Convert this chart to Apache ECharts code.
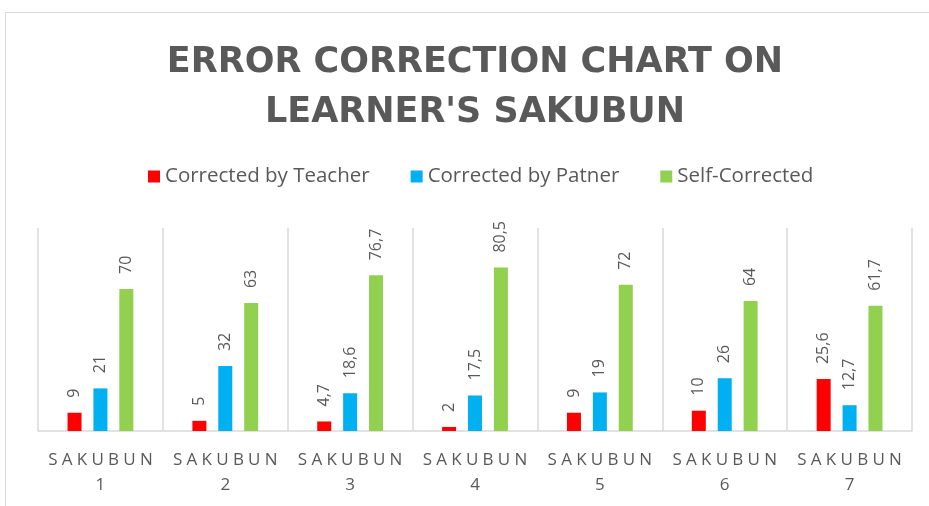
<!DOCTYPE html>
<html>
<head>
<meta charset="utf-8">
<script src="https://cdn.jsdelivr.net/npm/echarts@6/dist/echarts.min.js"></script>
<style>
  html, body { margin: 0; padding: 0; background: #fff; }
  #chart { width: 929px; height: 506px; }
</style>
</head>
<body>
<div id="chart"></div>
<script>
// data
var categories = ['SAKUBUN 1', 'SAKUBUN 2', 'SAKUBUN 3', 'SAKUBUN 4', 'SAKUBUN 5', 'SAKUBUN 6', 'SAKUBUN 7'];
var seriesNames = ['Corrected by Teacher', 'Corrected by Patner', 'Self-Corrected'];
var teacher = [9, 5, 4.7, 2, 9, 10, 25.6];
var patner = [21, 32, 18.6, 17.5, 19, 26, 12.7];
var selfCorrected = [70, 63, 76.7, 80.5, 72, 64, 61.7];
var colors = ['#ff0000', '#00b0f0', '#92d050'];

var grey = '#595959';
var font = '"Open Sans", "Noto Sans", sans-serif';

// comma decimal like the original
function fmt(p) {
  return String(p.value).replace('.', ',');
}

function makeSeries(name, data, color) {
  return {
    name: name,
    type: 'bar',
    data: data,
    barWidth: 14,
    barGap: '85%',
    itemStyle: { color: color },
    label: {
      show: true,
      position: 'top',
      rotate: 90,
      align: 'left',
      verticalAlign: 'middle',
      distance: 15,
      color: grey,
      fontFamily: font,
      fontSize: 16,
      formatter: fmt
    }
  };
}

var myChart = echarts.init(document.getElementById('chart'));
var option = {
  animation: false,
  color: colors,
  title: {
    text: "ERROR CORRECTION CHART ON\nLEARNER'S SAKUBUN",
    left: 470,
    top: 33,
    textAlign: 'center',
    textStyle: {
      color: grey,
      fontFamily: '"DejaVu Sans", sans-serif',
      fontWeight: 'bold',
      fontSize: 35,
      lineHeight: 50
    }
  },
  legend: {
    left: 143,
    top: 161,
    itemWidth: 12,
    itemHeight: 12,
    itemGap: 41,
    icon: 'rect',
    textStyle: { color: grey, fontFamily: font, fontSize: 20.5 },
    data: seriesNames
  },
  graphic: [{
    type: 'rect',
    shape: { x: 5.5, y: 12.5, width: 1000, height: 600 },
    style: { fill: 'none', stroke: '#d9d9d9', lineWidth: 1 },
    silent: true
  }],
  grid: { left: 38, right: 17, top: 228, bottom: 75 },
  xAxis: {
    type: 'category',
    data: categories,
    axisLine: { lineStyle: { color: '#d9d9d9', width: 1.5 } },
    axisTick: { show: false },
    splitLine: { show: true, lineStyle: { color: '#d9d9d9', width: 1.5 } },
    axisLabel: {
      color: grey,
      fontFamily: font,
      fontSize: 17,
      lineHeight: 25,
      margin: 17,
      interval: 0,
      formatter: function (v) {
        var parts = v.split(' ');
        return parts[0].split('').join('\u2005') + '\n' + parts[1];
      }
    }
  },
  yAxis: {
    type: 'value',
    min: 0,
    max: 100,
    show: false,
    splitLine: { show: false }
  },
  series: [
    makeSeries(seriesNames[0], teacher, colors[0]),
    makeSeries(seriesNames[1], patner, colors[1]),
    makeSeries(seriesNames[2], selfCorrected, colors[2])
  ]
};
myChart.setOption(option);
</script>
</body>
</html>
